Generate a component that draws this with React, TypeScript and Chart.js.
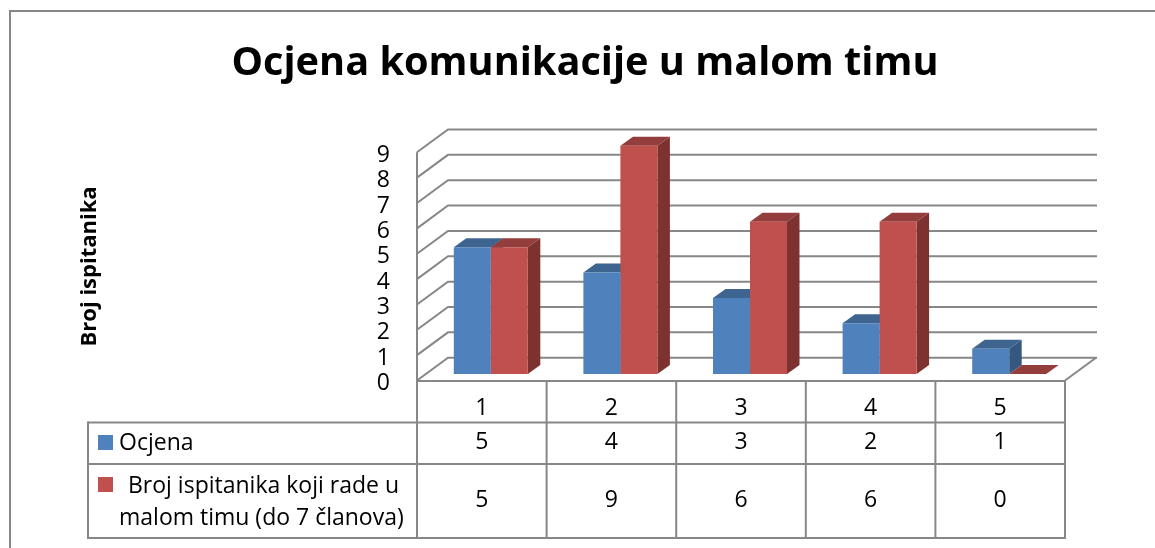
import React, { useEffect, useRef } from "react";
import { Chart, registerables } from "chart.js";

Chart.register(...registerables);

const categories = ["1", "2", "3", "4", "5"];
const ocjena = [5, 4, 3, 2, 1];
const brojIspitanika = [5, 9, 6, 6, 0];
const titleText = "Ocjena komunikacije u malom timu";
const axisTitle = "Broj ispitanika";
const seriesOne = "Ocjena";
const seriesTwo = "Broj ispitanika koji rade u malom timu (do 7 članova)";
const seriesTwoLines = ["Broj ispitanika koji rade u", "malom timu (do 7 članova)"];

const FONT = "'Open Sans', 'Noto Sans', sans-serif";
const GREY = "#878787";
const BLUE = "#4F81BD";
const RED = "#C0504D";
const faces: Record<string, { top: string; side: string }> = {
  [BLUE]: { top: "#3E6490", side: "#355780" },
  [RED]: { top: "#933E3C", side: "#7D3230" },
};
const BAR_SHIFT = { x: 9, y: -6.5 };
const BAR_DEPTH = { x: 12.5, y: -9 };
const WALL = { x: 31, y: -22.8 };
const TABLE = { left: 88, rows: [381, 422.5, 464, 538], centers: [442.7, 500] };

const line = (c: CanvasRenderingContext2D, a: number, b: number, d: number, e: number) => {
  c.beginPath();
  c.moveTo(a, b);
  c.lineTo(d, e);
  c.stroke();
};

const scene = {
  id: "scene",
  beforeDraw(chart: any) {
    const c = chart.ctx;
    const { chartArea: area, scales } = chart;
    const y = scales.y;
    c.save();
    c.fillStyle = "#fff";
    c.fillRect(0, 0, chart.width, chart.height);
    c.strokeStyle = GREY;
    c.lineWidth = 2;
    line(c, 10, 548, 10, 11);
    line(c, 9, 11, 1155, 11);
    for (let v = 0; v <= 9; v++) {
      const p = y.getPixelForValue(v);
      c.beginPath();
      c.moveTo(area.left, p);
      c.lineTo(area.left + WALL.x, p + WALL.y);
      c.lineTo(area.right + WALL.x + 1, p + WALL.y);
      c.stroke();
    }
    line(c, area.left, y.getPixelForValue(9), area.left, y.getPixelForValue(0));
    line(c, area.right, y.getPixelForValue(0), area.right + WALL.x, y.getPixelForValue(0) + WALL.y);
    c.restore();
  },
  beforeDatasetsDraw(chart: any) {
    const c = chart.ctx;
    c.save();
    c.translate(BAR_SHIFT.x, BAR_SHIFT.y);
    categories.forEach((_, i) => {
      chart.data.datasets.forEach((ds: any, d: number) => {
        const bar = chart.getDatasetMeta(d).data[i];
        const f = faces[ds.backgroundColor];
        const l = bar.x - bar.width / 2;
        const r = bar.x + bar.width / 2;
        const top = Math.min(bar.y, bar.base);
        const base = Math.max(bar.y, bar.base);
        c.fillStyle = f.top;
        c.beginPath();
        c.moveTo(l, top);
        c.lineTo(l + BAR_DEPTH.x, top + BAR_DEPTH.y);
        c.lineTo(r + BAR_DEPTH.x, top + BAR_DEPTH.y);
        c.lineTo(r, top);
        c.closePath();
        c.fill();
        if (base - top > 0.5) {
          c.fillStyle = f.side;
          c.beginPath();
          c.moveTo(r, top);
          c.lineTo(r + BAR_DEPTH.x, top + BAR_DEPTH.y);
          c.lineTo(r + BAR_DEPTH.x, base + BAR_DEPTH.y);
          c.lineTo(r, base);
          c.closePath();
          c.fill();
        }
      });
    });
  },
  afterDatasetsDraw(chart: any) {
    chart.ctx.restore();
  },
  afterDraw(chart: any) {
    const c = chart.ctx;
    const { chartArea: area, scales, data } = chart;
    const x = scales.x;
    const [r0, r1, r2, r3] = TABLE.rows;
    c.save();
    c.strokeStyle = GREY;
    c.lineWidth = 2;
    line(c, area.left - 1, r0, area.right, r0);
    line(c, TABLE.left, r1, area.right, r1);
    line(c, TABLE.left, r2, area.right, r2);
    line(c, TABLE.left, r3, area.right, r3);
    line(c, TABLE.left, r1 - 1, TABLE.left, r3 + 1);
    const step = (area.right - area.left) / categories.length;
    for (let i = 0; i <= categories.length; i++) {
      const px = area.left + step * i;
      line(c, px, r0, px, r3 + 1);
    }
    c.fillStyle = "#000";
    c.font = `23px ${FONT}`;
    c.textBaseline = "middle";
    c.textAlign = "center";
    data.datasets.forEach((ds: any, d: number) => {
      ds.data.forEach((v: number, i: number) => {
        c.fillText(String(v), x.getPixelForValue(i), TABLE.centers[d]);
      });
    });
    c.textAlign = "left";
    c.fillStyle = BLUE;
    c.fillRect(98, 435, 15, 15);
    c.fillStyle = RED;
    c.fillRect(98, 477, 15, 15);
    c.fillStyle = "#000";
    c.fillText(data.datasets[0].label, 119, 443);
    c.fillText(seriesTwoLines[0], 128, 486.5);
    c.fillText(seriesTwoLines[1], 119, 518.5);
    c.restore();
  },
};

export default function App() {
  const ref = useRef<HTMLCanvasElement>(null);
  useEffect(() => {
    const chart = new Chart(ref.current as HTMLCanvasElement, {
      type: "bar",
      data: {
        labels: categories,
        datasets: [
          { label: seriesOne, data: ocjena, backgroundColor: BLUE, clip: false, categoryPercentage: 0.571, barPercentage: 1 } as any,
          { label: seriesTwo, data: brojIspitanika, backgroundColor: RED, clip: false, categoryPercentage: 0.571, barPercentage: 1 } as any,
        ],
      },
      options: {
        responsive: false,
        animation: false,
        layout: { padding: { left: 15, right: 0, top: 0, bottom: 0 } },
        plugins: {
          legend: { display: false },
          tooltip: { enabled: false },
          title: {
            display: true,
            text: titleText,
            color: "#000",
            font: { family: FONT, size: 39.7, weight: "bold", lineHeight: 1.2 },
            padding: { top: 40, bottom: 64.66 },
          },
        },
        scales: {
          x: {
            grid: { display: false, drawTicks: false },
            border: { display: false },
            ticks: { color: "#000", padding: 14, font: { family: FONT, size: 23 } },
            afterFit: (s: any) => { s.height = 167.5; },
          },
          y: {
            min: 0,
            max: 9,
            grid: { display: false, drawTicks: false },
            border: { display: false },
            ticks: { color: "#000", stepSize: 1, autoSkip: false, padding: 27, labelOffset: 3, font: { family: FONT, size: 23 } },
            title: {
              display: true,
              text: axisTitle,
              color: "#000",
              font: { family: FONT, size: 22, weight: "bold" },
              padding: { top: 62, bottom: 0 },
            },
            afterFit: (s: any) => { s.width = 402; },
          },
          spacer: {
            position: "right",
            grid: { display: false, drawTicks: false },
            border: { display: false },
            ticks: { display: false },
            afterFit: (s: any) => { s.width = 90; },
          },
        },
      } as any,
      plugins: [scene as any],
    });
    return () => chart.destroy();
  }, []);
  return (
    <canvas
      ref={ref}
      width={1155}
      height={548}
      style={{ position: "fixed", left: 0, top: 0, display: "block" }}
    />
  );
}
